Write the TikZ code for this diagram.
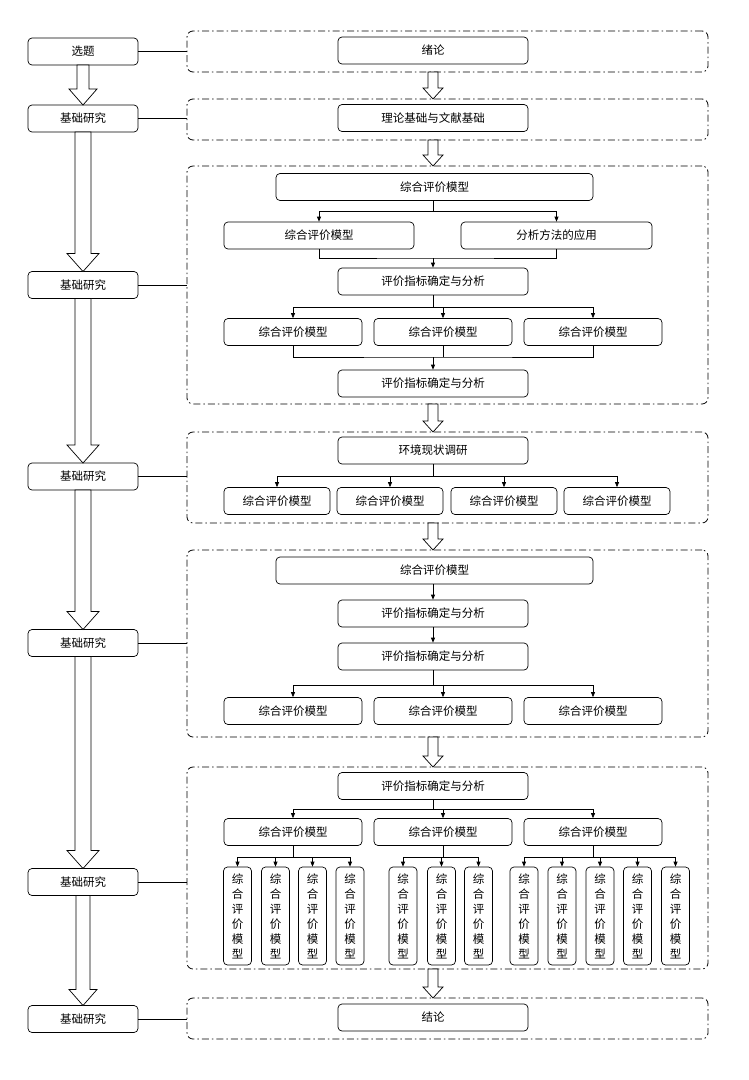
\documentclass[tikz,border=0pt]{standalone}
\usepackage{fontspec}
\setmainfont{Noto Sans CJK SC}
\usetikzlibrary{arrows.meta}
\begin{document}
\begin{tikzpicture}[x=1pt,y=-1pt,
  box/.style={draw,line width=0.7pt,rounded corners=4pt,inner sep=0pt,minimum height=27pt,font=\fontsize{11.5}{13}\selectfont},
  vbox/.style={draw,line width=0.7pt,rounded corners=4pt,inner sep=0pt,minimum width=28pt,minimum height=98pt,align=center,font=\fontsize{11.5}{15}\selectfont},
  cont/.style={draw,line width=0.8pt,rounded corners=6pt,dash pattern=on 7pt off 3pt on 1.5pt off 3pt},
  ln/.style={draw,line width=0.7pt},
  ar/.style={ln,-{Triangle[length=5pt,width=4pt]}},
  hol/.style={draw,fill=white,line width=0.7pt}]
\useasboundingbox (0,0) rectangle (748,1080);
\newcommand\harrow[6]{\draw[hol] (#1-#4,#2) -- (#1+#4,#2) -- (#1+#4,#3-#6) -- (#1+#5,#3-#6) -- (#1,#3) -- (#1-#5,#3-#6) -- (#1-#4,#3-#6) -- cycle;}
% containers
\node[cont,minimum width=521pt,minimum height=41pt,inner sep=0pt] (c1) at (447.5,51.5) {};
\node[cont,minimum width=521pt,minimum height=41pt,inner sep=0pt] (c2) at (447.5,119.5) {};
\node[cont,minimum width=521pt,minimum height=238pt,inner sep=0pt] (c3) at (447.5,285) {};
\node[cont,minimum width=521pt,minimum height=91pt,inner sep=0pt] (c4) at (447.5,477.5) {};
\node[cont,minimum width=521pt,minimum height=187pt,inner sep=0pt] (c5) at (447.5,643.5) {};
\node[cont,minimum width=521pt,minimum height=202pt,inner sep=0pt] (c6) at (447.5,868) {};
\node[cont,minimum width=521pt,minimum height=41pt,inner sep=0pt] (c7) at (447.5,1018.5) {};
% left column
\node[box,minimum width=110pt] (l0) at (83,51.5) {选题};
\node[box,minimum width=110pt] (l1) at (83,118.5) {基础研究};
\node[box,minimum width=110pt] (l2) at (83,285) {基础研究};
\node[box,minimum width=110pt] (l3) at (83,476.5) {基础研究};
\node[box,minimum width=110pt] (l4) at (83,643) {基础研究};
\node[box,minimum width=110pt] (l5) at (83,882) {基础研究};
\node[box,minimum width=110pt] (l6) at (83,1019) {基础研究};
\foreach \i/\c in {0/c1,1/c2,2/c3,3/c4,4/c5,5/c6,6/c7}{\draw[ln] (l\i.east) -- (l\i.east -| \c.west);}
% left hollow arrows
\harrow{83}{65}{105}{6}{14}{16}
\harrow{83}{132}{271.5}{8}{16}{18}
\harrow{83}{298.5}{463}{8}{16}{18}
\harrow{83}{490}{629.5}{8}{16}{18}
\harrow{83}{656.5}{868.5}{8}{16}{18}
\harrow{83}{895.5}{1005.5}{7}{14}{16}
% middle hollow arrows
\harrow{433}{72}{99}{5}{10}{11}
\harrow{433}{140}{166}{5}{10}{11}
\harrow{433}{404}{432}{5}{10}{11}
\harrow{433}{523}{550}{5}{10}{11}
\harrow{433}{737}{767}{5}{10}{11}
\harrow{433}{969}{998}{5}{10}{11}
% C1, C2, C7
\node[box,minimum width=190pt] (a1) at (433,50.5) {绪论};
\node[box,minimum width=190pt] (a2) at (433,118) {理论基础与文献基础};
\node[box,minimum width=190pt] (a7) at (433,1017.5) {结论};
% C3
\node[box,minimum width=317pt] (b1) at (434.5,187) {综合评价模型};
\node[box,minimum width=190pt] (b2) at (319,235.5) {综合评价模型};
\node[box,minimum width=191pt] (b3) at (556.5,235.5) {分析方法的应用};
\node[box,minimum width=190pt] (b4) at (433,281.5) {评价指标确定与分析};
\node[box,minimum width=138pt] (b5) at (293,332) {综合评价模型};
\node[box,minimum width=138pt] (b6) at (443,332) {综合评价模型};
\node[box,minimum width=138pt] (b7) at (593,332) {综合评价模型};
\node[box,minimum width=190pt] (b8) at (433,383.5) {评价指标确定与分析};
\draw[ln] (b1.south -| b4) -- (433,211);
\draw[ar] (433,211) -| (b2.north); \draw[ar] (433,211) -| (b3.north);
\draw[ln] (b2.south) |- (433,258) -| (b3.south);
\draw[ar] (433,258) -- (b4.north);
\draw[ln] (b4.south) -- (433,307);
\draw[ar] (433,307) -| (b5.north); \draw[ar] (433,307) -| (b7.north);
\draw[ar] (443,307) -- (b6.north);
\draw[ln] (b5.south) |- (433,357) -| (b7.south);
\draw[ln] (b6.south) -- (443,357);
\draw[ar] (433,357) -- (b8.north);
% C4
\node[box,minimum width=190pt] (d0) at (433,450.5) {环境现状调研};
\node[box,minimum width=106pt] (d1) at (277,501) {综合评价模型};
\node[box,minimum width=106pt] (d2) at (390,501) {综合评价模型};
\node[box,minimum width=106pt] (d3) at (504,501) {综合评价模型};
\node[box,minimum width=106pt] (d4) at (617,501) {综合评价模型};
\draw[ln] (d0.south) -- (433,476);
\foreach \k in {1,2,3,4}{\draw[ar] (433,476) -| (d\k.north);}
% C5
\node[box,minimum width=317pt] (e1) at (434.5,570.5) {综合评价模型};
\node[box,minimum width=190pt] (e2) at (433,613.5) {评价指标确定与分析};
\node[box,minimum width=190pt] (e3) at (433,656.5) {评价指标确定与分析};
\node[box,minimum width=138pt] (e4) at (293,711) {综合评价模型};
\node[box,minimum width=138pt] (e5) at (443,711) {综合评价模型};
\node[box,minimum width=138pt] (e6) at (593,711) {综合评价模型};
\draw[ar] (e1.south -| e2) -- (e2.north);
\draw[ar] (e2.south) -- (e3.north);
\draw[ln] (e3.south) -- (433,685);
\foreach \k in {4,5,6}{\draw[ar] (433,685) -| (e\k.north);}
% C6
\node[box,minimum width=190pt] (f0) at (433,786) {评价指标确定与分析};
\node[box,minimum width=138pt] (f1) at (293,832) {综合评价模型};
\node[box,minimum width=138pt] (f2) at (443,832) {综合评价模型};
\node[box,minimum width=138pt] (f3) at (593,832) {综合评价模型};
\draw[ln] (f0.south) -- (433,809);
\foreach \k in {1,2,3}{\draw[ar] (433,809) -| (f\k.north);}
\def\vt{综\\合\\评\\价\\模\\型}
\foreach \n/\x in {g1/237.5,g2/275.5,g3/312.5,g4/350}{\node[vbox] (\n) at (\x,916) {\vt};}
\foreach \n/\x in {h1/403,h2/441.5,h3/478.5}{\node[vbox] (\n) at (\x,916) {\vt};}
\foreach \n/\x in {k1/524,k2/562,k3/600,k4/637.5,k5/675.5}{\node[vbox] (\n) at (\x,916) {\vt};}
\draw[ln] (f1.south) -- (293,857);
\foreach \n in {g1,g2,g3,g4}{\draw[ar] (293,857) -| (\n.north);}
\draw[ln] (f2.south) -- (443,857);
\foreach \n in {h1,h2,h3}{\draw[ar] (443,857) -| (\n.north);}
\draw[ln] (f3.south) -- (593,857);
\foreach \n in {k1,k2,k3,k4,k5}{\draw[ar] (593,857) -| (\n.north);}
\end{tikzpicture}
\end{document}
